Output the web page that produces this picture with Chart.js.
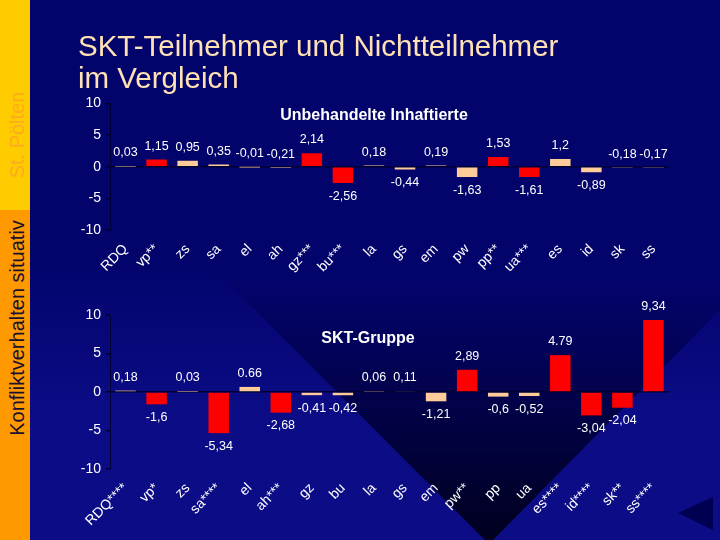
<!DOCTYPE html>
<html>
<head>
<meta charset="utf-8">
<script src="https://cdn.jsdelivr.net/npm/chart.js@4.4.1/dist/chart.umd.min.js"></script>
<style>
  html, body { margin:0; padding:0; width:720px; height:540px; overflow:hidden; background:#04046c; }
  #bg { position:absolute; left:0; top:0; }
  #c1 { position:absolute; left:60px; top:90px; }
  #c2 { position:absolute; left:60px; top:300px; }
  .strip1 { position:absolute; left:0; top:0; width:30px; height:210px; background:#ffcc00; }
  .strip2 { position:absolute; left:0; top:210px; width:30px; height:330px; background:#ff9900; }
  .vtext { position:absolute; white-space:nowrap; font-family:"Liberation Sans", Arial, sans-serif; font-size:20px; line-height:20px; transform:translate(-50%,-50%) rotate(-90deg); }
  #title { position:absolute; left:78px; top:30px; font-family:"Liberation Sans", Arial, sans-serif; font-size:29.5px; line-height:32px; color:#ffe2b4; white-space:nowrap; }
  .ptitle { position:absolute; width:240px; text-align:center; font-family:"Liberation Sans", Arial, sans-serif; font-weight:bold; font-size:16px; line-height:16px; color:#ffffff; white-space:nowrap; }
</style>
</head>
<body>
<canvas id="bg" width="720" height="540"></canvas>
<div class="strip1"></div>
<div class="strip2"></div>
<div class="vtext" style="left:17px; top:135px; color:#ffab1e;">St. Pölten</div>
<div class="vtext" style="left:17px; top:328px; color:#1a1030;">Konfliktverhalten situativ</div>
<div id="title">SKT-Teilnehmer und Nichtteilnehmer<br>im Vergleich</div>
<canvas id="c1" width="620" height="195"></canvas>
<canvas id="c2" width="620" height="240"></canvas>
<div class="ptitle" style="left:254px; top:107px;">Unbehandelte Inhaftierte</div>
<div class="ptitle" style="left:248px; top:330px;">SKT-Gruppe</div>
<script>
// ---- data ----
const topCategories = ['RDQ','vp**','zs','sa','el','ah','gz***','bu***','la','gs','em','pw','pp**','ua***','es','id','sk','ss'];
const topValues     = [0.03, 1.15, 0.95, 0.35, -0.01, -0.21, 2.14, -2.56, 0.18, -0.44, 0.19, -1.63, 1.53, -1.61, 1.2, -0.89, -0.18, -0.17];
const topSignificant = [0,1,0,0,0,0,1,1,0,0,0,0,1,1,0,0,0,0];

const sktCategories = ['RDQ****','vp*','zs','sa****','el','ah***','gz','bu','la','gs','em','pw**','pp','ua','es****','id****','sk**','ss****'];
const sktValues     = [0.18, -1.6, 0.03, -5.34, 0.66, -2.68, -0.41, -0.42, 0.06, 0.11, -1.21, 2.89, -0.6, -0.52, 4.79, -3.04, -2.04, 9.34];
const sktSignificant = [0,1,0,1,0,1,0,0,0,0,0,1,0,0,1,1,1,1];
const sktDotLabels = ['el','es****'];   // these labels use a decimal point in the original

const yTicks = [-10, -5, 0, 5, 10];

// ---- background decoration ----
(function(){
  const c = document.getElementById('bg').getContext('2d');
  c.fillStyle = '#03036c'; c.fillRect(0,0,720,540);
  function poly(pts, fill){ c.beginPath(); c.moveTo(pts[0][0],pts[0][1]); for(let i=1;i<pts.length;i++) c.lineTo(pts[i][0],pts[i][1]); c.closePath(); c.fillStyle=fill; c.fill(); }
  let g = c.createLinearGradient(0,260,0,420);
  g.addColorStop(0,'rgba(12,12,135,0)'); g.addColorStop(1,'rgba(12,12,135,1)');
  poly([[30,250],[195,250],[489,544],[30,544]], g);
  poly([[489,544],[779,250],[780,544]], g);
  let d = c.createLinearGradient(0,280,0,540);
  d.addColorStop(0,'rgba(0,0,40,0)'); d.addColorStop(1,'rgba(0,0,30,1)');
  poly([[195,250],[779,250],[489,544]], d);
  poly([[713,497],[678,513],[713,530]], '#000052');
})();

// ---- charts ----
const FONT = '"Liberation Sans", Arial, sans-serif';
const AXIS = '#000033';
const RED = '#ff0000', PEACH = '#ffcc99';

function fmt(v, dot){ const s = String(v); return dot ? s : s.replace('.', ','); }

const valueLabels = {
  id: 'valueLabels',
  afterDatasetsDraw(chart, args, opts){
    const ctx = chart.ctx;
    const meta = chart.getDatasetMeta(0);
    const vals = chart.data.datasets[0].data;
    ctx.save();
    ctx.fillStyle = '#ffffff';
    ctx.font = '12.5px ' + FONT;
    ctx.textAlign = 'center';
    meta.data.forEach((el, i) => {
      const v = vals[i];
      const txt = fmt(v, opts.dot && opts.dot.includes(chart.data.labels[i]));
      if (v < -0.3) {
        ctx.textBaseline = 'top';
        ctx.fillText(txt, el.x, Math.max(el.y, el.base) + 7);
      } else {
        ctx.textBaseline = 'bottom';
        ctx.fillText(txt, el.x, Math.min(el.y, el.base) - 7);
      }
    });
    ctx.restore();
  }
};

function makeChart(id, cats, vals, sig, padTop, xHeight, dot){
  return new Chart(document.getElementById(id), {
    type: 'bar',
    data: {
      labels: cats,
      datasets: [{
        data: vals,
        backgroundColor: sig.map(s => s ? RED : PEACH),
        borderWidth: 0,
        barPercentage: 0.66,
        categoryPercentage: 1.0
      }]
    },
    options: {
      responsive: false,
      animation: false,
      events: [],
      layout: { padding: { top: padTop, right: 11, left: 0, bottom: 0 } },
      plugins: { legend: { display: false }, tooltip: { enabled: false }, title: { display: false }, valueLabels: { dot: dot } },
      scales: {
        x: {
          grid: { display: false },
          border: { display: false },
          ticks: { color: '#ffffff', font: { family: FONT, size: 14 }, minRotation: 45, maxRotation: 45, autoSkip: false, padding: 3 },
          afterFit(s){ s.height = xHeight; }
        },
        y: {
          min: -10, max: 10,
          afterBuildTicks(s){ s.ticks = yTicks.map(v => ({ value: v })); },
          grid: {
            color: ctx => (ctx.tick && ctx.tick.value === 0) ? AXIS : 'rgba(0,0,0,0)',
            lineWidth: 1.5,
            tickColor: AXIS,
            tickLength: 4,
            drawTicks: true
          },
          border: { display: true, color: AXIS, width: 1 },
          ticks: { color: '#ffffff', font: { family: FONT, size: 14 }, padding: 5 },
          afterFit(s){ s.width = 50; }
        }
      }
    },
    plugins: [valueLabels]
  });
}

makeChart('c1', topCategories, topValues, topSignificant, 12, 55, null);
makeChart('c2', sktCategories, sktValues, sktSignificant, 15, 71, sktDotLabels);
</script>
</body>
</html>
